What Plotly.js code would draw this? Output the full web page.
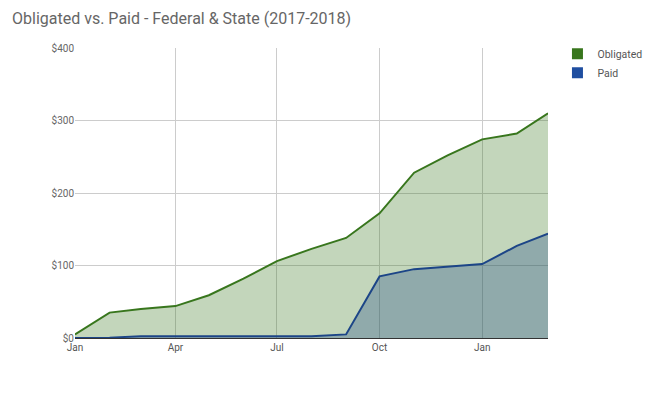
<!DOCTYPE html>
<html>
<head>
<meta charset="utf-8">
<script src="https://cdn.plot.ly/plotly-3.0.1.min.js"></script>
<style>html,body{margin:0;padding:0;background:#fff;}#chart{width:647px;height:396px;}</style>
</head>
<body>
<div id="chart"></div>
<script>
const months = ["2017-01-01","2017-02-01","2017-03-01","2017-04-01","2017-05-01","2017-06-01","2017-07-01","2017-08-01","2017-09-01","2017-10-01","2017-11-01","2017-12-01","2018-01-01","2018-02-01","2018-03-01"];
const obligated = [5, 35, 40, 44, 59, 82, 106, 123, 138, 172, 228, 252, 274, 282, 310];
const paid = [0, 0.5, 2.5, 2.5, 2.5, 2.5, 2.5, 2.5, 5, 85, 95, 98, 102, 127, 144];
const tickVals = ["2017-01-01","2017-04-01","2017-07-01","2017-10-01","2018-01-01"];
const tickText = ["Jan","Apr","Jul","Oct","Jan"];
const yTicks = [0, 100, 200, 300, 400];
const yTickText = ["$0","$100","$200","$300","$400"];

const green = "#38761d";
const blue = "#1c4587";

const traces = [
  {x: months, y: obligated, type: "scatter", mode: "lines", fill: "tozeroy",
   line: {color: green, width: 2}, fillcolor: "rgba(56,118,29,0.3)", showlegend: false, hoverinfo: "skip"},
  {x: months, y: paid, type: "scatter", mode: "lines", fill: "tozeroy",
   line: {color: blue, width: 2}, fillcolor: "rgba(28,69,135,0.3)", showlegend: false, hoverinfo: "skip"},
  {x: [null], y: [null], type: "scatter", mode: "markers", name: "Obligated",
   marker: {symbol: "square", size: 11, color: green}},
  {x: [null], y: [null], type: "scatter", mode: "markers", name: "Paid",
   marker: {symbol: "square", size: 11, color: "#1f4ea0"}}
];

const layout = {
  width: 647, height: 396,
  margin: {l: 75, r: 99, t: 48, b: 58, autoexpand: false},
  paper_bgcolor: "#fff", plot_bgcolor: "#fff",
  font: {family: "Roboto, sans-serif", color: "#757575", size: 11},
  title: {text: "Obligated vs. Paid - Federal & State (2017-2018)", x: 12/647, xanchor: "left",
          xref: "container", yref: "container", y: 1 - 18/396, yanchor: "middle",
          font: {family: "Roboto, sans-serif", size: 16, color: "#666"}},
  xaxis: {type: "date", range: ["2017-01-01", "2018-03-01"], tickvals: tickVals, ticktext: tickText,
          showgrid: true, gridcolor: "#cccccc", gridwidth: 1, zeroline: false,
          showline: true, linecolor: "#333", linewidth: 1, ticks: "",
          tickfont: {size: 10, color: "#555"}, fixedrange: true},
  yaxis: {range: [0, 400], tickvals: yTicks, ticktext: yTickText,
          showgrid: true, gridcolor: "#cccccc", gridwidth: 1, zeroline: false,
          showline: false, ticks: "", tickfont: {size: 10, color: "#666"}, fixedrange: true},
  legend: {x: 1.02, xanchor: "left", y: 1.03, yanchor: "top", font: {size: 10.5, color: "#555"},
           itemwidth: 30, tracegroupgap: 0, bgcolor: "rgba(0,0,0,0)"},
  showlegend: true
};

Plotly.newPlot("chart", traces, layout, {displayModeBar: false, staticPlot: true});
</script>
</body>
</html>
